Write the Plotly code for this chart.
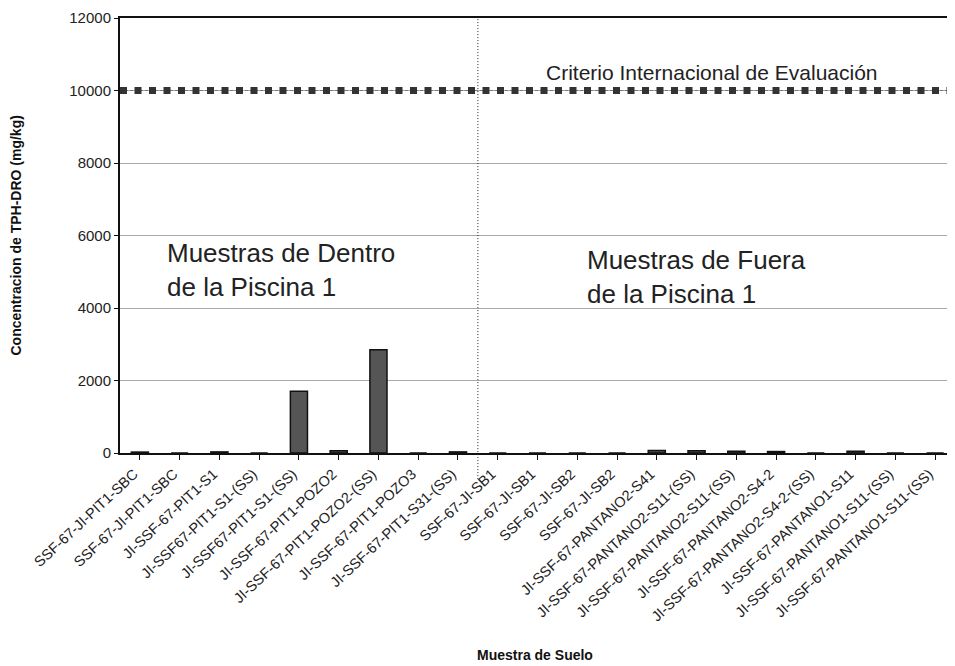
import plotly.graph_objects as go

categories = [
    "SSF-67-JI-PIT1-SBC", "SSF-67-JI-PIT1-SBC", "JI-SSF-67-PIT1-S1",
    "JI-SSF67-PIT1-S1-(SS)", "JI-SSF67-PIT1-S1-(SS)", "JI-SSF-67-PIT1-POZO2",
    "JI-SSF-67-PIT1-POZO2-(SS)", "JI-SSF-67-PIT1-POZO3", "JI-SSF-67-PIT1-S31-(SS)",
    "SSF-67-JI-SB1", "SSF-67-JI-SB1", "SSF-67-JI-SB2", "SSF-67-JI-SB2",
    "JI-SSF-67-PANTANO2-S41", "JI-SSF-67-PANTANO2-S11-(SS)", "JI-SSF-67-PANTANO2-S11-(SS)",
    "JI-SSF-67-PANTANO2-S4-2", "JI-SSF-67-PANTANO2-S4-2-(SS)", "JI-SSF-67-PANTANO1-S11",
    "JI-SSF-67-PANTANO1-S11-(SS)", "JI-SSF-67-PANTANO1-S11-(SS)",
]
tph_values = [25, 0, 30, 0, 1700, 60, 2850, 0, 30,
              0, 0, 0, 0, 70, 60, 50, 40, 0, 50, 0, 0]
criterio = 10000
y_ticks = [0, 2000, 4000, 6000, 8000, 10000, 12000]
y_ticktext = ["0", "2000", "4000", "6000", "8000", "10000", "12000"]

# unique x positions for duplicate category names
xpos = list(range(len(categories)))

FONT = "Liberation Sans, Arial, sans-serif"

# page body has an 8px margin; figure is sized to fit the 955x666 window
W, H = 947, 658
ML, MT = 112, 10
PW, PH = W - ML, 435
MB = H - MT - PH

fig = go.Figure()
fig.add_trace(go.Bar(
    x=xpos, y=tph_values,
    marker=dict(color="#555555", line=dict(color="#111", width=1.5)),
    width=0.43, showlegend=False,
))

# criterion line (thin dashed + square markers)
fig.add_shape(type="line", xref="paper", x0=0, x1=1, yref="y", y0=criterio, y1=criterio,
              line=dict(color="#777", width=1, dash="3px,2px"))
fig.add_shape(type="line", xref="paper", x0=0, x1=1, yref="y", y0=criterio, y1=criterio,
              line=dict(color="#333", width=7, dash="7px,7.5px"))

# separator between inside / outside samples
fig.add_shape(type="line", xref="x", x0=8.5, x1=8.5, yref="paper", y0=-0.06, y1=1,
              line=dict(color="#222", width=1, dash="1px,2px"))

fig.add_annotation(text="Criterio Internacional de Evaluación", xref="x", x=14.4,
                   yref="y", y=10500, showarrow=False,
                   font=dict(family=FONT, size=21, color="#222"))
fig.add_annotation(text="Muestras de Dentro<br>de la Piscina 1", xref="x", x=0.63,
                   xanchor="left", align="left", yref="y", y=5060, showarrow=False,
                   font=dict(family=FONT, size=26, color="#222"))
fig.add_annotation(text="Muestras de Fuera<br>de la Piscina 1", xref="x", x=11.2,
                   xanchor="left", align="left", yref="y", y=4850, showarrow=False,
                   font=dict(family=FONT, size=26, color="#222"))
fig.add_annotation(text="<b>Concentracion de TPH-DRO (mg/kg)</b>", xref="paper",
                   x=(15 - 120) / PW, xanchor="center", yref="paper", y=0.5,
                   yanchor="middle", textangle=-90,
                   showarrow=False, font=dict(family=FONT, size=14, color="#111"))
fig.add_annotation(text="<b>Muestra de Suelo</b>", xref="paper", x=(535 - 120) / PW,
                   xanchor="center", yref="paper", y=-(655 - 453) / PH, yanchor="middle",
                   showarrow=False, font=dict(family=FONT, size=14, color="#111"))

fig.update_layout(
    width=W, height=H, autosize=False,
    margin=dict(l=ML, r=0, t=MT, b=MB, autoexpand=False),
    paper_bgcolor="white", plot_bgcolor="white",
    bargap=0.57,
    font=dict(family=FONT, color="#222"),
)
fig.update_xaxes(
    tickmode="array", tickvals=xpos, ticktext=categories, tickangle=-43,
    range=[-0.5, len(categories) - 0.5], automargin=False,
    showline=True, linecolor="#111", linewidth=2, mirror=True,
    ticks="outside", ticklen=5, tickcolor="#111", tickson="boundaries",
    ticklabelshift=-6,
    tickfont=dict(family=FONT, size=14.5, color="#222"),
    showgrid=False, zeroline=False,
)
fig.update_yaxes(
    range=[0, 12000], tickmode="array", tickvals=y_ticks, ticktext=y_ticktext,
    automargin=False,
    showline=True, linecolor="#111", linewidth=2,
    ticks="outside", ticklen=4, tickcolor="#111",
    tickfont=dict(family=FONT, size=15, color="#222"),
    showgrid=True, gridcolor="#a8a8a8", gridwidth=1, zeroline=False,
)

fig.write_html("out.html")
